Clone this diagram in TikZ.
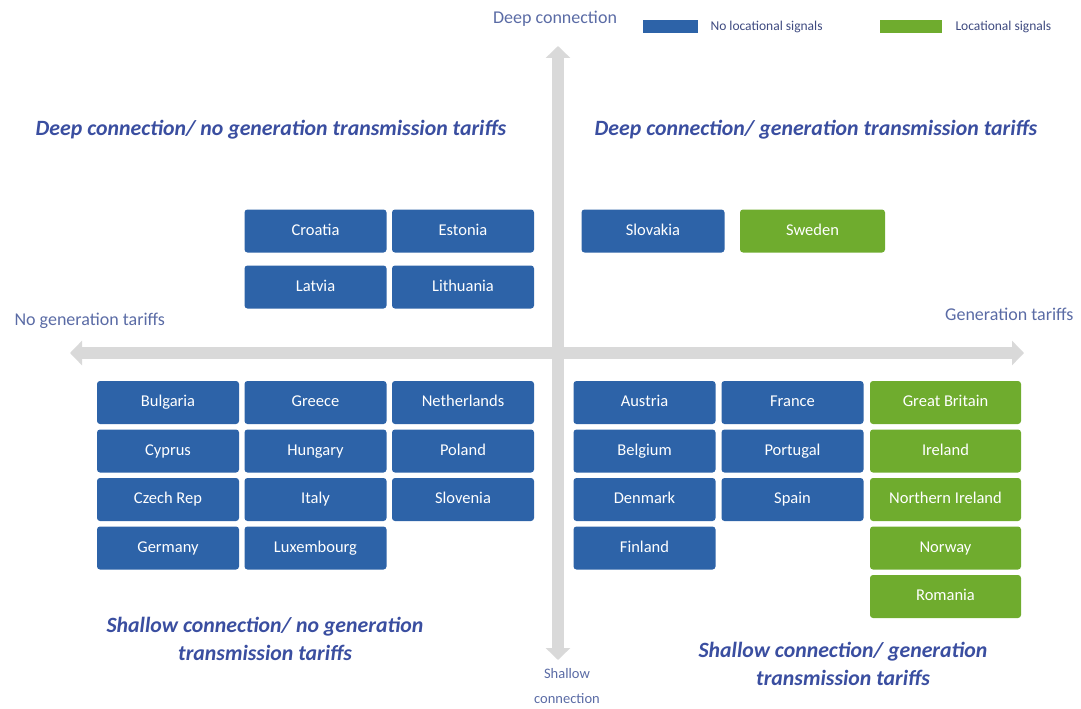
\documentclass[tikz,border=0pt]{standalone}
\usepackage{fontspec}
\setmainfont{Carlito}
\usetikzlibrary{arrows.meta}
\definecolor{boxblue}{HTML}{2D63A8}
\definecolor{boxgreen}{HTML}{6FAC2E}
\definecolor{headblue}{HTML}{3A4EA0}
\definecolor{axislbl}{HTML}{5A6BA5}
\definecolor{legtext}{HTML}{3E4A80}
\definecolor{axisgray}{HTML}{D9D9D9}
\begin{document}
\begin{tikzpicture}[x=1pt,y=-1pt,
  cbox/.style={rectangle, rounded corners=3pt, minimum width=142pt, minimum height=43pt,
    inner sep=0pt, text=white, font=\fontsize{16.5}{18}\selectfont,
    text height=11.5pt, text depth=3.5pt},
  nls/.style={cbox, fill=boxblue},
  ls/.style={cbox, fill=boxgreen, minimum width=151pt},
  heading/.style={text=headblue, font=\fontsize{21.8}{28}\selectfont\bfseries\itshape, align=center},
  axlabel/.style={text=axislbl, font=\fontsize{18}{25}\selectfont, align=center},
  smalllabel/.style={text=axislbl, font=\fontsize{14.5}{25}\selectfont, align=center},
  legtxt/.style={text=legtext, font=\fontsize{13.5}{15}\selectfont, anchor=west},
  axisline/.style={draw=axisgray, line width=12pt,
    {Triangle[width=24pt,length=12pt]}-{Triangle[width=24pt,length=12pt]}},
  swatch/.style={rectangle, minimum height=13pt, inner sep=0pt}
]
\useasboundingbox (0,0) rectangle (1081,709);

% axes
\coordinate (vtop) at (558,46);
\coordinate (vbot) at (558,660);
\coordinate (hleft) at (70,353);
\coordinate (hright) at (1024,353);
\draw[axisline] (vtop) -- (vbot);
\draw[axisline] (hleft) -- (hright);

% axis labels
\node[axlabel] (deep) at (555,19) {Deep connection};
\node[axlabel, anchor=west] (nogen) at (11,321) {No generation tariffs};
\node[axlabel, anchor=east] (gen) at (1077,314) {Generation tariffs};
\node[smalllabel] (shallow) at (567,686) {Shallow\\connection};

% legend
\node[swatch, fill=boxblue, minimum width=55pt] (lgb) at (670.5,26.5) {};
\node[legtxt] (lgbt) at (707,26.5) {No locational signals};
\node[swatch, fill=boxgreen, minimum width=62pt] (lgg) at (911,26.5) {};
\node[legtxt] (lggt) at (952,26.5) {Locational signals};

% headings
\node[heading] (htl) at (271,130) {Deep connection/ no generation transmission tariffs};
\node[heading] (htr) at (816,130) {Deep connection/ generation transmission tariffs};
\node[heading] (hbl) at (265,639) {Shallow connection/ no generation\\transmission tariffs};
\node[heading] (hbr) at (843,664) {Shallow connection/ generation\\transmission tariffs};

% top-left quadrant
\node[nls] (croatia) at (315.5,231) {Croatia};
\node[nls] (estonia) at (463,231) {Estonia};
\node[nls] (latvia) at (315.5,287) {Latvia};
\node[nls] (lithuania) at (463,287) {Lithuania};

% top-right quadrant
\node[nls, minimum width=143pt] (slovakia) at (653,231) {Slovakia};
\node[ls, minimum width=145pt] (sweden) at (812.5,231) {Sweden};

% bottom-left quadrant
\node[nls] (bulgaria) at (168,402.5) {Bulgaria};
\node[nls] (greece) at (315.5,402.5) {Greece};
\node[nls] (netherlands) at (463,402.5) {Netherlands};
\node[nls] (cyprus) at (168,451) {Cyprus};
\node[nls] (hungary) at (315.5,451) {Hungary};
\node[nls] (poland) at (463,451) {Poland};
\node[nls] (czech) at (168,499.5) {Czech Rep};
\node[nls] (italy) at (315.5,499.5) {Italy};
\node[nls] (slovenia) at (463,499.5) {Slovenia};
\node[nls] (germany) at (168,548) {Germany};
\node[nls] (luxembourg) at (315.5,548) {Luxembourg};

% bottom-right quadrant
\node[nls] (austria) at (644.5,402.5) {Austria};
\node[nls] (france) at (792.5,402.5) {France};
\node[ls] (gb) at (945.5,402.5) {Great Britain};
\node[nls] (belgium) at (644.5,451) {Belgium};
\node[nls] (portugal) at (792.5,451) {Portugal};
\node[ls] (ireland) at (945.5,451) {Ireland};
\node[nls] (denmark) at (644.5,499.5) {Denmark};
\node[nls] (spain) at (792.5,499.5) {Spain};
\node[ls] (nireland) at (945.5,499.5) {Northern Ireland};
\node[nls] (finland) at (644.5,548) {Finland};
\node[ls] (norway) at (945.5,548) {Norway};
\node[ls] (romania) at (945.5,596.5) {Romania};
\end{tikzpicture}
\end{document}
